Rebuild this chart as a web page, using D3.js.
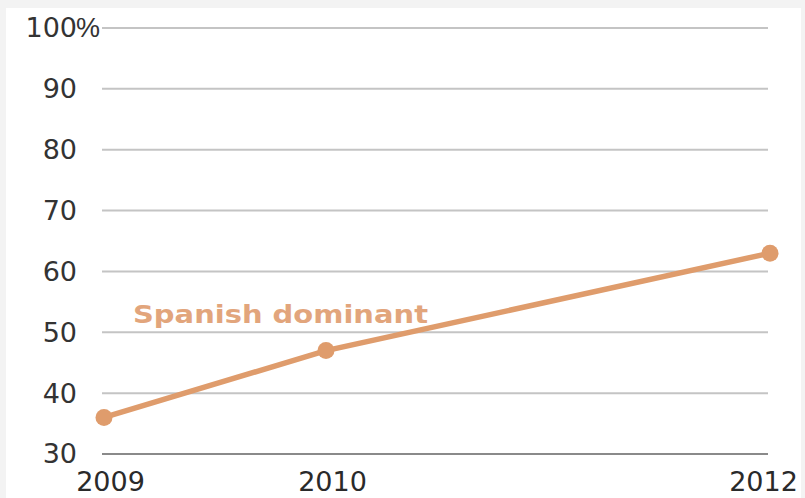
<!DOCTYPE html>
<html>
<head>
<meta charset="utf-8">
<script src="https://cdn.jsdelivr.net/npm/d3@7"></script>
<style>
  html, body { margin: 0; padding: 0; background: #f3f3f3; }
  svg { display: block; font-family: "DejaVu Sans", Verdana, sans-serif; }
</style>
</head>
<body>
<svg id="chart"></svg>
<script>
// values
const years = [2009, 2010, 2012];
const spanishDominant = [36, 47, 63];
const yTicks = [30, 40, 50, 60, 70, 80, 90, 100];
const seriesLabel = "Spanish dominant";

const width = 805, height = 498;
const margin = { top: 28, right: 35, bottom: 44, left: 104 };

const svg = d3.select("#chart")
  .attr("width", width)
  .attr("height", height);

// white panel with a faint grey rim
svg.append("rect")
  .attr("x", 6).attr("y", 8)
  .attr("width", width - 10).attr("height", height - 8)
  .attr("fill", "#fff");

const x = d3.scaleLinear()
  .domain([2009, 2012])
  .range([margin.left, width - margin.right]);

const y = d3.scaleLinear()
  .domain([30, 100])
  .range([height - margin.bottom, margin.top]);

// gridlines
svg.append("g")
  .selectAll("line")
  .data(yTicks)
  .join("line")
  .attr("x1", margin.left - 2)
  .attr("x2", width - margin.right - 2)
  .attr("y1", d => y(d))
  .attr("y2", d => y(d))
  .attr("stroke", d => d === 30 ? "#8a8a8a" : "#c4c4c4")
  .attr("stroke-width", 2);

// y axis labels
const yAxis = svg.append("g")
  .attr("transform", `translate(${margin.left - 27},0)`)
  .call(d3.axisLeft(y).tickValues(yTicks).tickSize(0).tickPadding(0));
yAxis.select(".domain").remove();
yAxis.selectAll("text")
  .attr("fill", "#333")
  .attr("font-size", 27)
  .attr("dy", "0.33em")
  .attr("font-family", "DejaVu Sans, Verdana, sans-serif");
yAxis.selectAll(".tick")
  .filter(d => d === 100)
  .append("text")
  .attr("x", -1)
  .attr("dy", "0.33em")
  .attr("text-anchor", "start")
  .attr("fill", "#333")
  .attr("font-size", 27)
  .text("%");

// x axis labels
const xAxis = svg.append("g")
  .attr("transform", `translate(0,${height - margin.bottom + 13})`)
  .call(d3.axisBottom(x).tickValues(years).tickFormat(d3.format("d")).tickSize(0).tickPadding(0));
xAxis.select(".domain").remove();
xAxis.selectAll("text")
  .attr("fill", "#2a2a2a")
  .attr("font-size", 27)
  .attr("dy", "0.9em")
  .attr("dx", d => d === 2012 ? -7 : 6)
  .attr("font-family", "DejaVu Sans, Verdana, sans-serif");

// series
const color = "#df9c6c";
const pts = years.map((yr, i) => ({ year: yr, value: spanishDominant[i] }));

svg.append("path")
  .datum(pts)
  .attr("fill", "none")
  .attr("stroke", color)
  .attr("stroke-width", 5.5)
  .attr("d", d3.line().x(d => x(d.year)).y(d => y(d.value)));

svg.append("g")
  .selectAll("circle")
  .data(pts)
  .join("circle")
  .attr("cx", d => x(d.year))
  .attr("cy", d => y(d.value))
  .attr("r", 8.5)
  .attr("fill", color);

svg.append("text")
  .attr("x", 133)
  .attr("y", 323)
  .attr("fill", "#e2a57c")
  .attr("font-size", 25)
  .attr("font-weight", "bold")
  .attr("textLength", 295)
  .attr("lengthAdjust", "spacingAndGlyphs")
  .text(seriesLabel);
</script>
</body>
</html>
